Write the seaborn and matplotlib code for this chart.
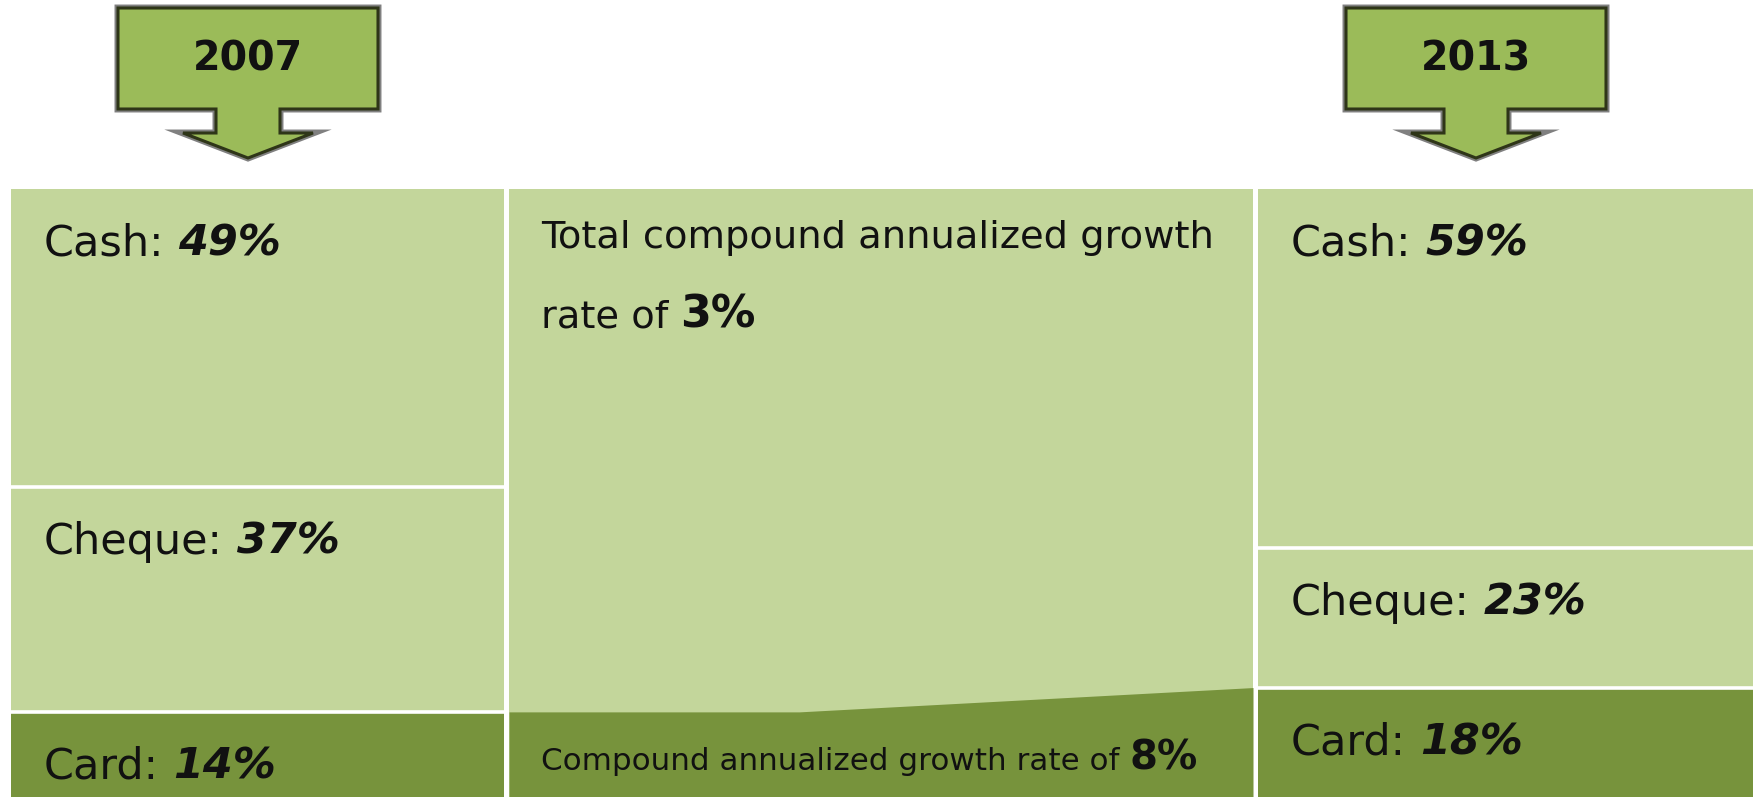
import matplotlib
matplotlib.use("Agg")
import matplotlib.pyplot as plt
from matplotlib.patches import Polygon
import numpy as np
import pandas as pd
import seaborn as sns

# ---- data -------------------------------------------------------------
years = ["2007", "2013"]
methods = ["Card", "Cheque", "Cash"]          # stacked bottom -> top
share_2007 = [14, 37, 49]
share_2013 = [18, 23, 59]
total_cagr = 3                                # % per year, all payments
card_cagr = 8                                 # % per year, card payments

# ---- style ------------------------------------------------------------
sns.set_theme(style="white")
plt.rcParams["font.family"] = ["DejaVu Sans"]

LIGHT = "#C3D69B"
DARK = "#77933C"
ARROW = "#9BBB59"
seg_color = {"Card": DARK, "Cheque": LIGHT, "Cash": LIGHT}

W, H = 1757, 797
fig = plt.figure(figsize=(W / 100, H / 100), dpi=100)
fig.patch.set_facecolor("white")


def px_axes(x0, x1, y_top, y_bot, z=1):
    return fig.add_axes([x0 / W, 1 - y_bot / H, (x1 - x0) / W, (y_bot - y_top) / H], zorder=z)


TOP, BOT = 189, 797
ax_l = px_axes(11, 504, TOP, BOT)
ax_m = px_axes(509, 1253, TOP, BOT)
ax_r = px_axes(1258, 1753, TOP, BOT)

renderer = fig.canvas.get_renderer()
PT2PX = 100 / 72


def two_part(ax, xy, offset, plain, strong, size_a, size_b, style_b="italic"):
    """Regular text followed by a bold value, sharing one baseline."""
    t1 = ax.annotate(plain, xy, xytext=offset, textcoords="offset pixels",
                     ha="left", va="baseline", fontsize=size_a, color="#111111")
    bb = t1.get_window_extent(renderer)
    gap = 0.318 * size_a * PT2PX
    ax.annotate(strong, xy, xytext=(offset[0] + bb.width + gap, offset[1]),
                textcoords="offset pixels", ha="left", va="baseline",
                fontsize=size_b, fontweight="bold", fontstyle=style_b,
                color="#111111")


LABEL_SIZE = 31
LABEL_DX, LABEL_DY = 33, -67


def stacked_panel(ax, year, shares):
    df = pd.DataFrame({"method": methods, "share": shares})
    df["top"] = df["share"].cumsum()
    df["bottom"] = df["top"] - df["share"]
    # draw cumulative heights from the tallest down so each layer shows
    for _, row in df.iloc[::-1].iterrows():
        sns.barplot(x=[year], y=[row["top"]], color=seg_color[row["method"]],
                    saturation=1, width=1, ax=ax, linewidth=0)
    for b in df["bottom"].iloc[1:]:
        ax.axhline(b, color="white", lw=2.6)
    ax.set_xlim(-0.5, 0.5)
    ax.set_ylim(0, 100)
    ax.set_axis_off()
    for _, row in df.iterrows():
        two_part(ax, (-0.5, row["top"]), (LABEL_DX, LABEL_DY),
                 f"{row['method']}:", f"{row['share']}%", LABEL_SIZE, LABEL_SIZE)


stacked_panel(ax_l, years[0], share_2007)
stacked_panel(ax_r, years[1], share_2013)

# ---- middle transition panel -------------------------------------------
ax_m.fill_between([0, 1], 0, 100, color=LIGHT, lw=0)
card_x = [0, 0.39, 1]
card_y = [share_2007[0], share_2007[0], share_2013[0]]
ax_m.fill_between(card_x, 0, card_y, color=DARK, lw=0)
ax_m.set_xlim(0, 1)
ax_m.set_ylim(0, 100)
ax_m.set_axis_off()

ax_m.annotate("Total compound annualized growth", (0, 100), xytext=(32, -59),
              textcoords="offset pixels", ha="left", va="baseline",
              fontsize=27.6, color="#111111")
two_part(ax_m, (0, 100), (32, -139), "rate of", f"{total_cagr}%", 27.6, 32,
         style_b="normal")
two_part(ax_m, (0, 0), (32, 27), "Compound annualized growth rate of",
         f"{card_cagr}%", 22.3, 29, style_b="normal")

# ---- year arrows ---------------------------------------------------------
ax_o = fig.add_axes([0, 0, 1, 1], zorder=5)
ax_o.set_xlim(0, W)
ax_o.set_ylim(H, 0)
ax_o.set_axis_off()
ax_o.patch.set_visible(False)

arrow_centres = {"2007": 248, "2013": 1476}
BOX_W, BOX_T, BOX_B = 260, 8, 109
STEM_W, STEM_B = 64, 133
HEAD_W, TIP = 130, 158

for year in years:
    cx = arrow_centres[year]
    pts = [(cx - BOX_W / 2, BOX_T), (cx + BOX_W / 2, BOX_T), (cx + BOX_W / 2, BOX_B),
           (cx + STEM_W / 2, BOX_B), (cx + STEM_W / 2, STEM_B), (cx + HEAD_W / 2, STEM_B),
           (cx, TIP), (cx - HEAD_W / 2, STEM_B), (cx - STEM_W / 2, STEM_B),
           (cx - STEM_W / 2, BOX_B), (cx - BOX_W / 2, BOX_B)]
    ax_o.add_patch(Polygon(pts, closed=True, facecolor=ARROW, edgecolor="#808080",
                           lw=5, joinstyle="miter"))
    ax_o.add_patch(Polygon(pts, closed=True, facecolor=ARROW, edgecolor="#2E3518",
                           lw=2.2, joinstyle="miter"))
    ax_o.text(cx, (BOX_T + BOX_B) / 2 + 1, year, ha="center", va="center",
              fontsize=28.5, fontweight="bold", color="#111111")

fig.savefig("out.png", dpi=100)
